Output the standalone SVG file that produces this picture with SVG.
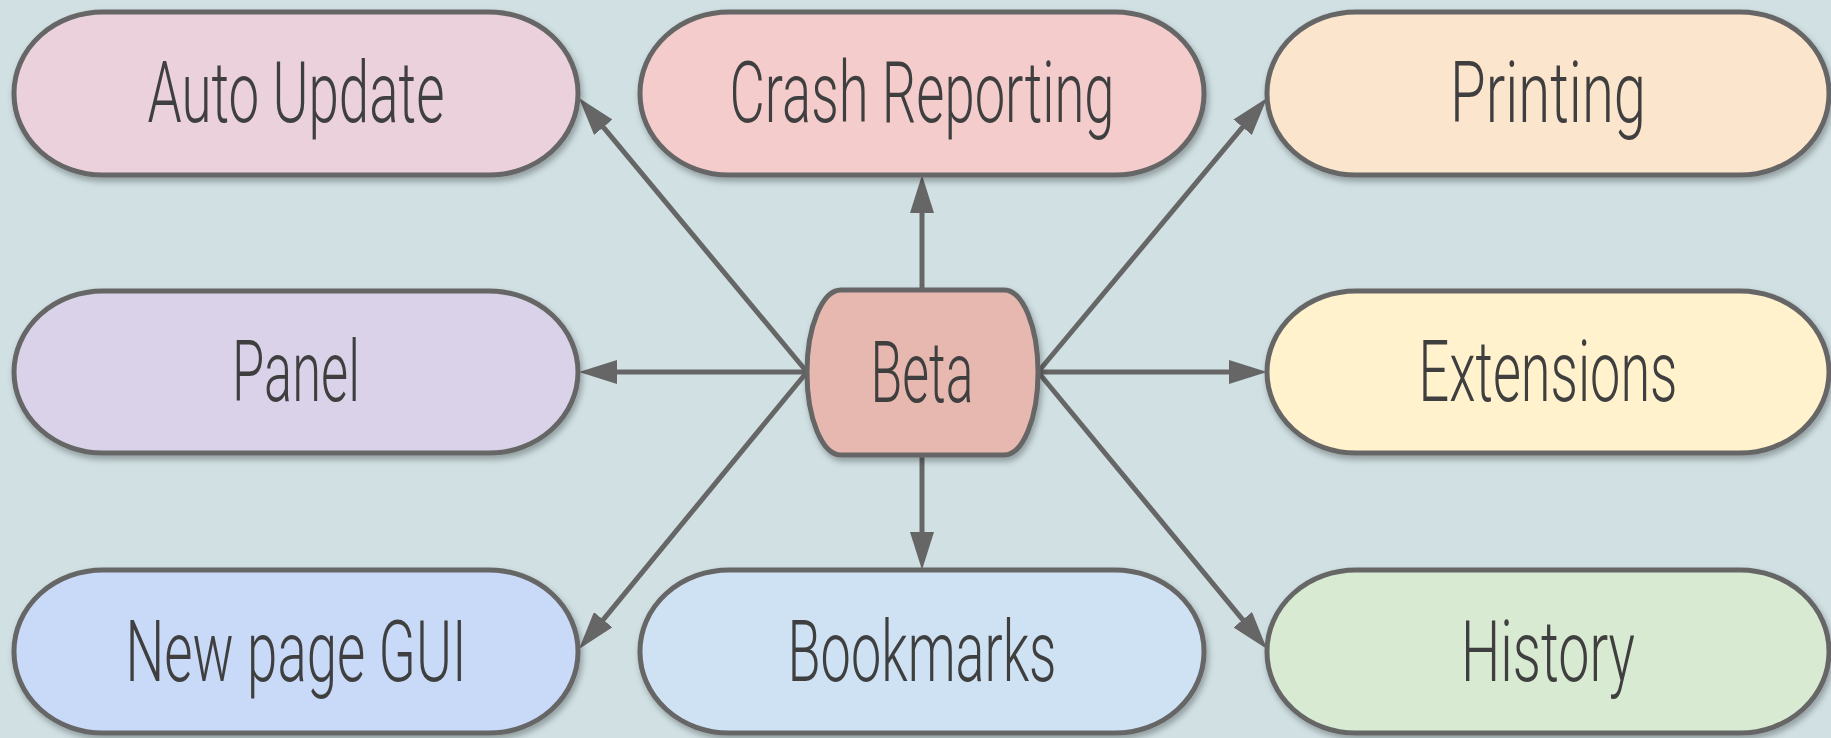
<svg xmlns="http://www.w3.org/2000/svg" width="1831" height="738" viewBox="0 0 1831 738">
<style>
.n{stroke:#666666;stroke-width:5;filter:url(#sh)}
.t{font-family:Roboto,"Liberation Sans",sans-serif;font-weight:300;font-size:85px;fill:#3f3f3f;text-anchor:middle}
.c{stroke:#666666;stroke-width:5;fill:none;marker-end:url(#ah)}
</style>
<defs>
<filter id="sh" x="-10%" y="-20%" width="120%" height="150%">
<feDropShadow dx="2" dy="4" stdDeviation="3" flood-color="#000" flood-opacity="0.3"/>
</filter>
<marker id="ah" viewBox="0 0 38 24" refX="28" refY="12" markerWidth="38" markerHeight="24" orient="auto" markerUnits="userSpaceOnUse">
<path d="M0,0 L38,12 L0,24 z" fill="#666666"/>
</marker>
</defs>
<rect width="1831" height="738" fill="#d0e0e3"/>
<g id="connectors">
<line class="c" x1="922" y1="290" x2="922" y2="185"/>
<line class="c" x1="922" y1="455" x2="922" y2="560"/>
<line class="c" x1="807" y1="372" x2="589" y2="372"/>
<line class="c" x1="1038" y1="372" x2="1257" y2="372"/>
<line class="c" x1="807" y1="372" x2="585.4" y2="105.7"/>
<line class="c" x1="1038" y1="372" x2="1260.6" y2="105.7"/>
<line class="c" x1="807" y1="372" x2="585.4" y2="641.3"/>
<line class="c" x1="1038" y1="372" x2="1260.6" y2="641.3"/>
</g>
<g id="auto-update">
<rect class="n" x="14" y="12" width="564" height="163" rx="89" ry="81" fill="#ead1dc"/>
<text class="t" x="296" y="122" textLength="297" lengthAdjust="spacingAndGlyphs">Auto Update</text>
</g>
<g id="crash-reporting">
<rect class="n" x="640" y="12" width="564" height="163" rx="89" ry="81" fill="#f4cccc"/>
<text class="t" x="922" y="122" textLength="385" lengthAdjust="spacingAndGlyphs">Crash Reporting</text>
</g>
<g id="printing">
<rect class="n" x="1267" y="12" width="562" height="163" rx="89" ry="81" fill="#fce5cd"/>
<text class="t" x="1548" y="122" textLength="196" lengthAdjust="spacingAndGlyphs">Printing</text>
</g>
<g id="panel">
<rect class="n" x="14" y="291" width="564" height="162" rx="89" ry="81" fill="#d9d2e9"/>
<text class="t" x="296" y="401" textLength="128" lengthAdjust="spacingAndGlyphs">Panel</text>
</g>
<g id="beta">
<rect class="n" x="807" y="290" width="231" height="165" rx="34" ry="82" fill="#e6b8af"/>
<text class="t" x="922" y="402" textLength="103" lengthAdjust="spacingAndGlyphs">Beta</text>
</g>
<g id="extensions">
<rect class="n" x="1267" y="291" width="562" height="162" rx="89" ry="81" fill="#fff2cc"/>
<text class="t" x="1548" y="401" textLength="259" lengthAdjust="spacingAndGlyphs">Extensions</text>
</g>
<g id="new-page-gui">
<rect class="n" x="14" y="570" width="564" height="163" rx="89" ry="81" fill="#c9daf8"/>
<text class="t" x="296" y="681" textLength="341" lengthAdjust="spacingAndGlyphs">New page GUI</text>
</g>
<g id="bookmarks">
<rect class="n" x="640" y="570" width="564" height="163" rx="89" ry="81" fill="#cfe2f3"/>
<text class="t" x="922" y="681" textLength="269" lengthAdjust="spacingAndGlyphs">Bookmarks</text>
</g>
<g id="history">
<rect class="n" x="1267" y="570" width="562" height="163" rx="89" ry="81" fill="#d9ead3"/>
<text class="t" x="1548" y="681" textLength="174" lengthAdjust="spacingAndGlyphs">History</text>
</g>
</svg>
